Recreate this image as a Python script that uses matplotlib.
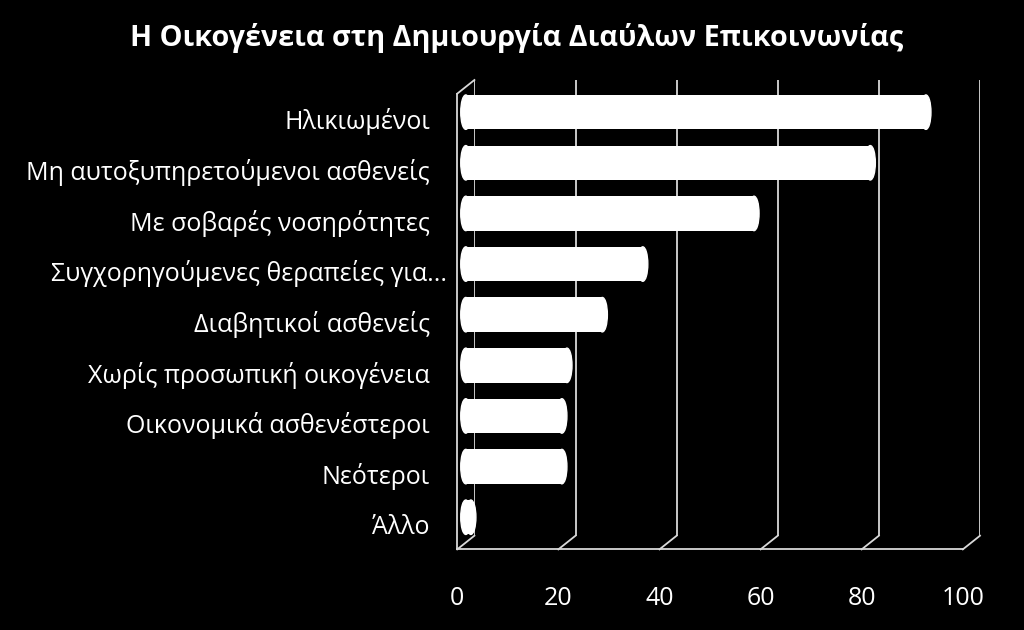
import numpy as np
import matplotlib
matplotlib.use("Agg")
import matplotlib.pyplot as plt
from matplotlib.patches import Ellipse
from matplotlib.transforms import ScaledTranslation

# data
categories = ["Ηλικιωμένοι", "Μη αυτοξυπηρετούμενοι ασθενείς", "Με σοβαρές νοσηρότητες",
              "Συγχορηγούμενες θεραπείες για...", "Διαβητικοί ασθενείς",
              "Χωρίς προσωπική οικογένεια", "Οικονομικά ασθενέστεροι", "Νεότεροι", "Άλλο"]
values = [91, 80, 57, 35, 27, 20, 19, 19, 1]
xticks = [0, 20, 40, 60, 80, 100]
title = "Η Οικογένεια στη Δημιουργία Διαύλων Επικοινωνίας"

plt.rcParams['font.family'] = ['Open Sans', 'DejaVu Sans']

fig = plt.figure(figsize=(10.24, 6.3), dpi=100, facecolor='black')
# axes = back wall of the 3d box
ax = fig.add_axes([474.4/1024, 1 - 535.7/630, 505.6/1024, 455.7/630])
ax.set_facecolor('black')
ax.set_xlim(0, 100)
ax.set_ylim(8.5, -0.5)
for s in ax.spines.values():
    s.set_visible(False)

# depth offset of the front plane (data units)
DX, DY = -3.4, 0.27
col = '#d9d9d9'
lw = 1.3

# back gridlines + floor slants
for t in xticks:
    ax.plot([t, t], [-0.5, 8.5], color=col, lw=lw)
    ax.plot([t, t + DX], [8.5, 8.5 + DY], color=col, lw=lw, clip_on=False)
# floor front edge and left wall
ax.plot([DX, 100 + DX], [8.5 + DY, 8.5 + DY], color=col, lw=lw, clip_on=False)
ax.plot([DX, DX], [-0.5 + DY, 8.5 + DY], color=col, lw=lw, clip_on=False)
ax.plot([DX, 0], [-0.5 + DY, -0.5], color=col, lw=lw, clip_on=False)

# cylinder bars
y = np.arange(len(categories))
h = 0.68
bars = ax.barh(y + DY/2, values, left=DX/2, height=h, color='white', zorder=3)
for b in bars:
    b.set_clip_on(False)
for yi, v in zip(y, values):
    ax.add_patch(Ellipse((DX/2, yi + DY/2), 2.0, h, color='white', zorder=3, clip_on=False))
    ax.add_patch(Ellipse((DX/2 + v, yi + DY/2), 2.0, h, color='white', zorder=3, clip_on=False))

ax.set_xticks(xticks)
ax.set_xticklabels([str(t) for t in xticks], color='white', fontsize=18)
ax.tick_params(axis='x', length=0, pad=36)
for lab in ax.get_xticklabels():
    lab.set_transform(lab.get_transform() + ScaledTranslation(-0.172, 0, fig.dpi_scale_trans))

ax.set_yticks(y + DY)
ax.set_yticklabels(categories, color='white', fontsize=18)
ax.tick_params(axis='y', length=0, pad=32)
# the truncated label runs a bit further right in the original
lab = ax.get_yticklabels()[3]
lab.set_transform(lab.get_transform() + ScaledTranslation(0.17, 0, fig.dpi_scale_trans))

fig.text(517/1024, 1 - 38/630, title, color='white', fontsize=20.7, fontweight='bold',
         ha='center', va='center')

fig.savefig("out.png", dpi=100, facecolor='black')
